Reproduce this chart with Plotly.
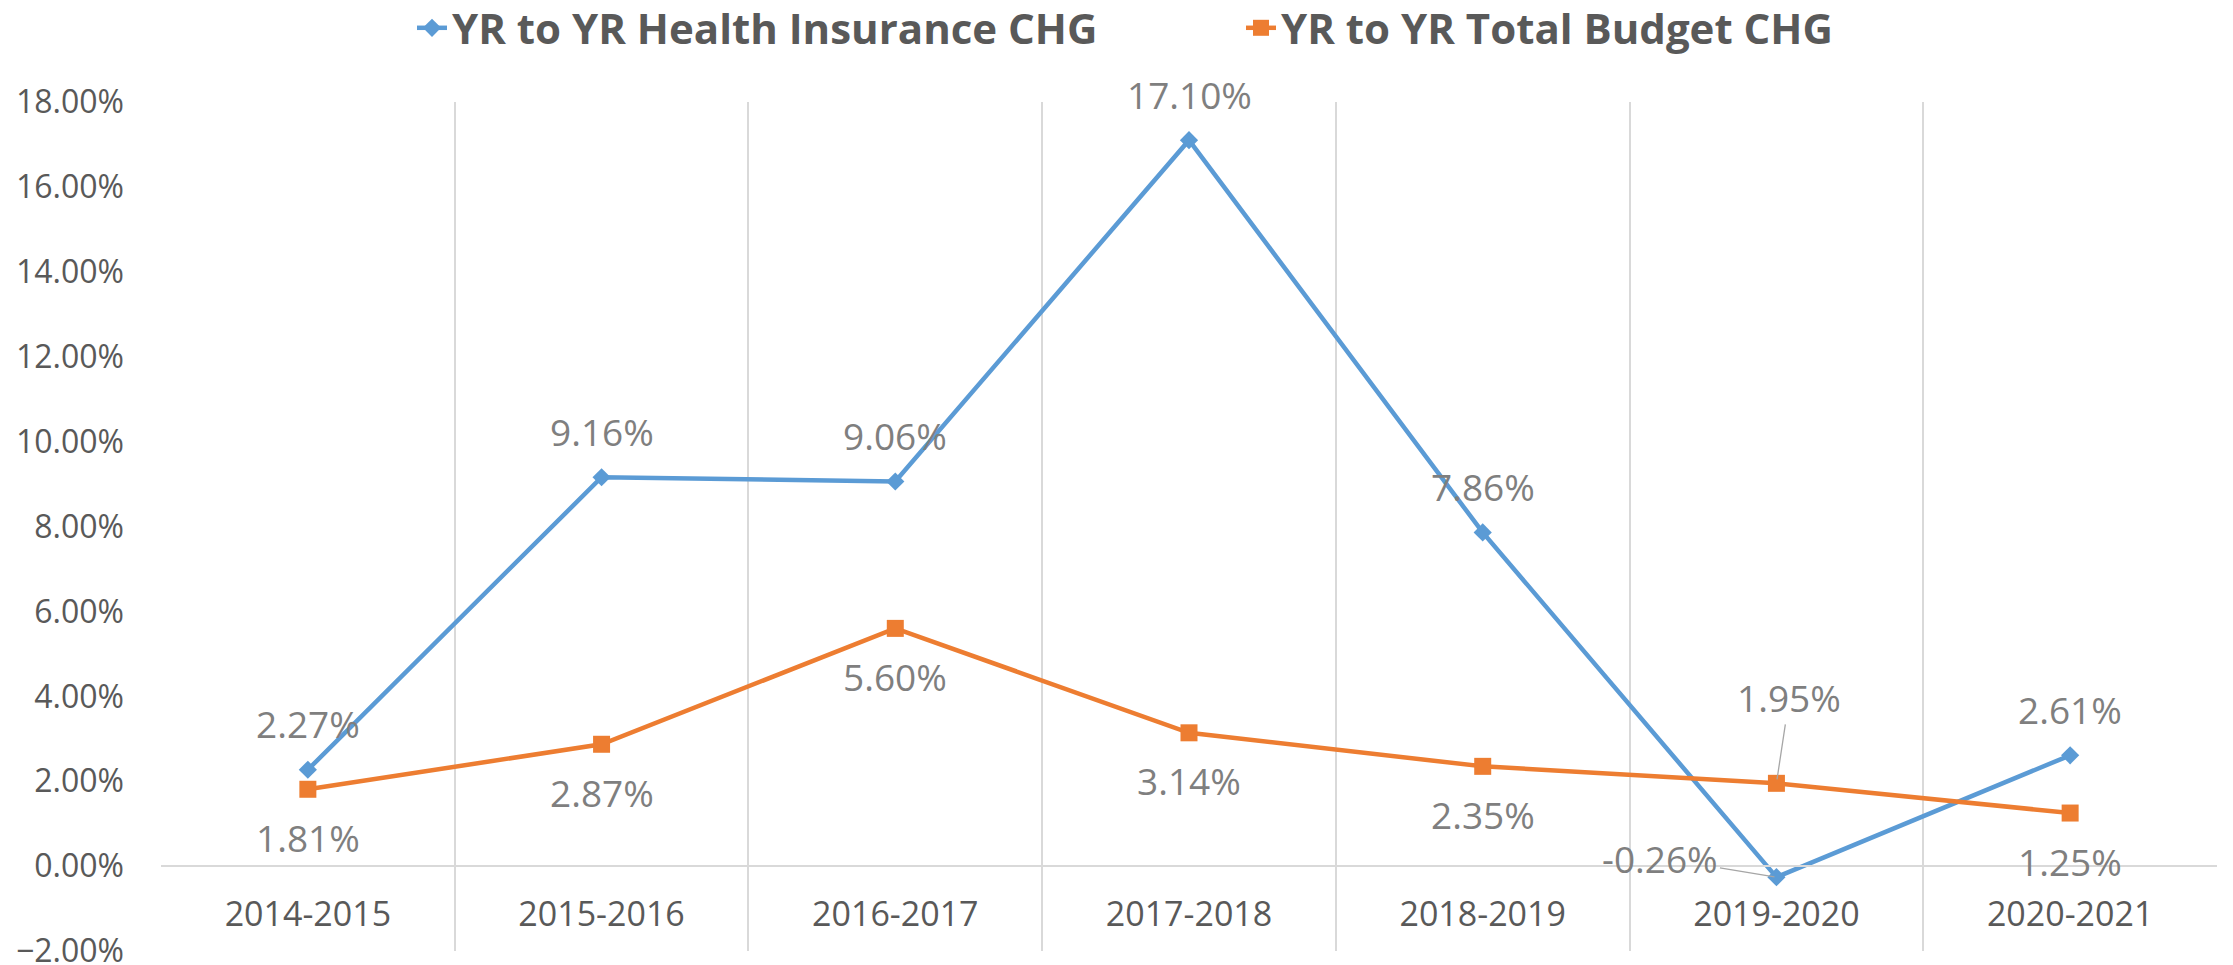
import plotly.graph_objects as go

categories = ["2014-2015", "2015-2016", "2016-2017", "2017-2018", "2018-2019", "2019-2020", "2020-2021"]
health_chg = [2.27, 9.16, 9.06, 17.10, 7.86, -0.26, 2.61]
budget_chg = [1.81, 2.87, 5.60, 3.14, 2.35, 1.95, 1.25]
y_ticks = [-2, 0, 2, 4, 6, 8, 10, 12, 14, 16, 18]

BLUE = "#5B9BD5"
ORANGE = "#ED7D31"
GRID = "#D9D9D9"
TXT = "#595959"
LBL = "#7F7F7F"
FONT = "Open Sans, sans-serif"

fig = go.Figure()
fig.add_trace(go.Scatter(
    x=categories, y=[v / 100 for v in health_chg], mode="lines+markers",
    name="YR to YR Health Insurance CHG", legend="legend",
    line=dict(color=BLUE, width=4.5),
    marker=dict(symbol="diamond", size=14, color=BLUE),
))
fig.add_trace(go.Scatter(
    x=categories, y=[v / 100 for v in budget_chg], mode="lines+markers",
    name="YR to YR Total Budget CHG", legend="legend2",
    line=dict(color=ORANGE, width=4.5),
    marker=dict(symbol="square", size=17, color=ORANGE),
))

lblfont = dict(family=FONT, size=37, color=LBL)
for i, (c, v) in enumerate(zip(categories, health_chg)):
    if v < 0:
        fig.add_annotation(x=c, y=v / 100, text=f"{v:.2f}%", showarrow=True,
                           ax=-116, ay=-19, arrowhead=0, arrowwidth=1.3,
                           arrowcolor="#A6A6A6", standoff=2, font=lblfont)
    else:
        fig.add_annotation(x=c, y=v / 100, text=f"{v:.2f}%", showarrow=False,
                           yshift=46, font=lblfont)
for i, (c, v) in enumerate(zip(categories, budget_chg)):
    if i == 5:
        fig.add_annotation(x=c, y=v / 100, text=f"{v:.2f}%", showarrow=True,
                           ax=13, ay=-86, arrowhead=0, arrowwidth=1.3,
                           arrowcolor="#A6A6A6", standoff=4, font=lblfont)
    else:
        fig.add_annotation(x=c, y=v / 100, text=f"{v:.2f}%", showarrow=False,
                           yshift=-48, font=lblfont)

legfont = dict(family=FONT, size=42, color=TXT, weight="bold")
fig.update_layout(
    width=2233, height=965,
    margin=dict(l=161, r=16, t=102, b=14, autoexpand=False),
    paper_bgcolor="white", plot_bgcolor="white",
    showlegend=True,
    legend=dict(orientation="h", xref="container", yref="container",
                x=412 / 2233, xanchor="left", y=1 - 28 / 965, yanchor="middle",
                font=legfont, bgcolor="rgba(0,0,0,0)"),
    legend2=dict(orientation="h", xref="container", yref="container",
                 x=1241 / 2233, xanchor="left", y=1 - 28 / 965, yanchor="middle",
                 font=legfont, bgcolor="rgba(0,0,0,0)"),
    xaxis=dict(type="category", tickson="boundaries", showgrid=True,
               gridcolor=GRID, gridwidth=2, anchor="free", position=0.1,
               showline=True, linecolor=GRID, linewidth=2, ticks="",
               ticklabelstandoff=18, range=[-0.5, 6.5],
               tickfont=dict(family=FONT, size=34, color=TXT)),
    yaxis=dict(range=[-0.02, 0.18], tickvals=[t / 100 for t in y_ticks],
               tickformat=".2%", showgrid=False, zeroline=False, ticks="",
               showline=False, ticklabelstandoff=36, ticklabeloverflow="allow",
               tickfont=dict(family=FONT, size=32, color=TXT)),
)

fig.write_html(
    "out.html",
    config={"displayModeBar": False},
    post_script="document.body.style.margin='0';document.body.style.padding='0';"
                "document.documentElement.style.overflow='hidden';",
)
